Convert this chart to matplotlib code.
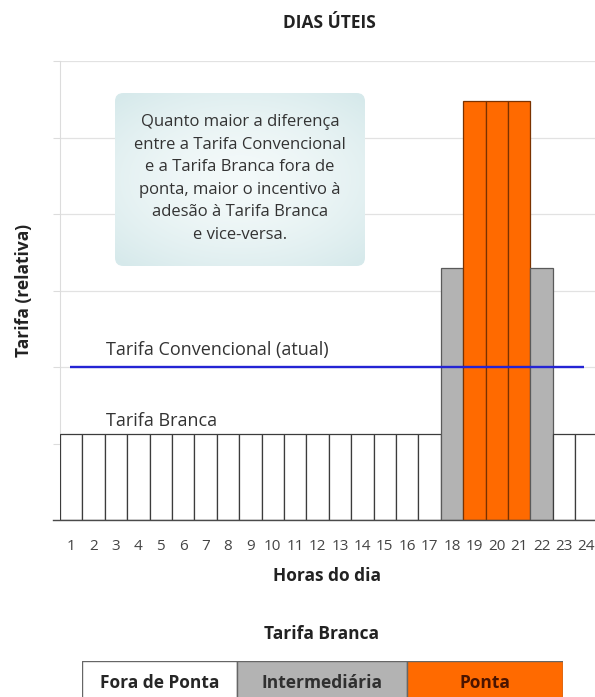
"""Tarifa Branca x Tarifa Convencional - dias úteis"""

import numpy as np

import matplotlib.pyplot as plt
from matplotlib.patches import FancyBboxPatch

plt.rcParams['font.family'] = ['Open Sans', 'DejaVu Sans']

# Horas do dia e tarifa relativa (Tarifa Branca) em cada hora
horas = list(range(1, 25))
tarifa_branca = [1.12, 1.12, 1.12, 1.12, 1.12, 1.12, 1.12, 1.12,
                 1.12, 1.12, 1.12, 1.12, 1.12, 1.12, 1.12, 1.12,
                 1.12, 3.29, 5.48, 5.48, 5.48, 3.29, 1.12, 1.12]
posto = ['fora', 'fora', 'fora', 'fora', 'fora', 'fora', 'fora', 'fora',
         'fora', 'fora', 'fora', 'fora', 'fora', 'fora', 'fora', 'fora',
         'fora', 'inter', 'ponta', 'ponta', 'ponta', 'inter', 'fora', 'fora']
tarifa_convencional = 2.0

postos_legenda = ['fora', 'inter', 'ponta']
nomes_legenda = ['Fora de Ponta', 'Intermediária', 'Ponta']

texto_caixa = ("Quanto maior a diferença\n"
               "entre a Tarifa Convencional\n"
               "e a Tarifa Branca fora de\n"
               "ponta, maior o incentivo à\n"
               "adesão à Tarifa Branca\n"
               "e vice-versa.")

FACE = {'fora': 'white', 'inter': '#b3b3b3', 'ponta': '#ff6a00'}
EDGE = {'fora': '#3c3c3c', 'inter': '#5a5a5a', 'ponta': '#7a3200'}
TEXT_LEG = {'fora': '#262626', 'inter': '#303030', 'ponta': '#4a1400'}

W, H = 595, 697


def fx(px):
    return px / W


def fy(py):
    return 1 - py / H


def draw_note(fig):
    """Rounded note with a soft cyan gradient"""
    x0, x1, y0, y1 = fx(115), fx(365), fy(266), fy(93)

    yy, xx = np.mgrid[-1:1:200j, -1:1:300j]
    r = np.clip(np.sqrt((xx * 0.9) ** 2 + (yy * 1.0) ** 2), 0, 1.3)
    inner = np.array([0.955, 0.978, 0.978])
    outer = np.array([0.84, 0.915, 0.922])
    t = (r / 1.3)[..., None] ** 1.6
    img = inner * (1 - t) + outer * t

    gax = fig.add_axes([0, 0, 1, 1], zorder=4)
    gax.set_xlim(0, 1)
    gax.set_ylim(0, 1)
    gax.axis('off')
    gax.patch.set_alpha(0)
    im = gax.imshow(img, extent=(x0, x1, y0, y1), aspect='auto',
                    interpolation='bilinear')
    box = FancyBboxPatch((x0, y0), x1 - x0, y1 - y0,
                         boxstyle="round,pad=0,rounding_size=0.014",
                         mutation_aspect=W / H,
                         transform=gax.transData,
                         facecolor='none', edgecolor='none')
    gax.add_patch(box)
    im.set_clip_path(box)

    gax.text((x0 + x1) / 2, fy(178.5), texto_caixa, ha='center', va='center',
             fontsize=12, color='#333333', linespacing=1.55)


def main():
    fig = plt.figure(figsize=(W / 100, H / 100), dpi=100)

    ax = fig.add_axes([fx(60), fy(520), fx(595) - fx(60), fy(61) - fy(520)])

    cores = [FACE[p] for p in posto]
    bordas = [EDGE[p] for p in posto]
    ax.bar(horas, tarifa_branca, width=1.0, color=cores, edgecolor=bordas,
           linewidth=0.9, zorder=3)
    ax.hlines(tarifa_convencional, 0.95, 23.9, color='#2424d4', lw=1.7,
              zorder=4)

    ax.set_xlim(0.5, 0.5 + 535 / 22.4)
    ax.set_ylim(0, 6)
    ax.set_yticks(range(0, 7))
    ax.set_yticklabels([])
    ax.tick_params(axis='y', length=5, color='#dcdcdc', width=0.8)
    ax.grid(axis='y', color='#e2e2e2', lw=0.9, zorder=0)
    ax.set_xticks(horas)
    ax.set_xticklabels([str(h) for h in horas], fontsize=11,
                       color='#444444')
    ax.tick_params(axis='x', length=0, pad=14)
    for side in ('top', 'right', 'bottom'):
        ax.spines[side].set_visible(False)
    ax.spines['left'].set_color('#dcdcdc')
    ax.axhline(0, xmin=-7 / 535, xmax=1, color='#4a4a4a', lw=1.0,
               clip_on=False, zorder=3)

    ax.text(2.55, 2.16, 'Tarifa Convencional (atual)', fontsize=13,
            color='#333333', va='baseline')
    ax.text(2.55, 1.23, 'Tarifa Branca', fontsize=13, color='#333333',
            va='baseline')

    fig.text(fx(329), fy(23), 'DIAS ÚTEIS', ha='center', va='center',
             fontsize=12.5, fontweight='bold', color='#222222')
    fig.text(fx(24), fy(290), 'Tarifa (relativa)', ha='center', va='center',
             rotation=90, fontsize=12.5, fontweight='bold', color='#222222')
    fig.text(fx(327), fy(576), 'Horas do dia', ha='center', va='center',
             fontsize=12.5, fontweight='bold', color='#222222')
    fig.text(fx(322), fy(634), 'Tarifa Branca', ha='center', va='center',
             fontsize=12.5, fontweight='bold', color='#222222')

    draw_note(fig)

    # legenda dos postos tarifários
    larguras = [155, 170, 156]
    lax = fig.add_axes([fx(82), fy(705), fx(563) - fx(82), fy(661) - fy(705)])
    esquerda = np.concatenate([[0], np.cumsum(larguras)[:-1]])
    lax.barh(0, larguras, left=esquerda, height=1.0,
             color=[FACE[p] for p in postos_legenda], edgecolor='#666666',
             linewidth=1.0)
    for x, w, p, nome in zip(esquerda, larguras, postos_legenda,
                             nomes_legenda):
        lax.text(x + w / 2, 0, nome, ha='center', va='center', fontsize=12.5,
                 fontweight='bold', color=TEXT_LEG[p])
    lax.set_xlim(0, sum(larguras))
    lax.set_ylim(-0.5, 0.5)
    lax.axis('off')

    fig.savefig('out.png', dpi=100)


if __name__ == "__main__":
    main()
